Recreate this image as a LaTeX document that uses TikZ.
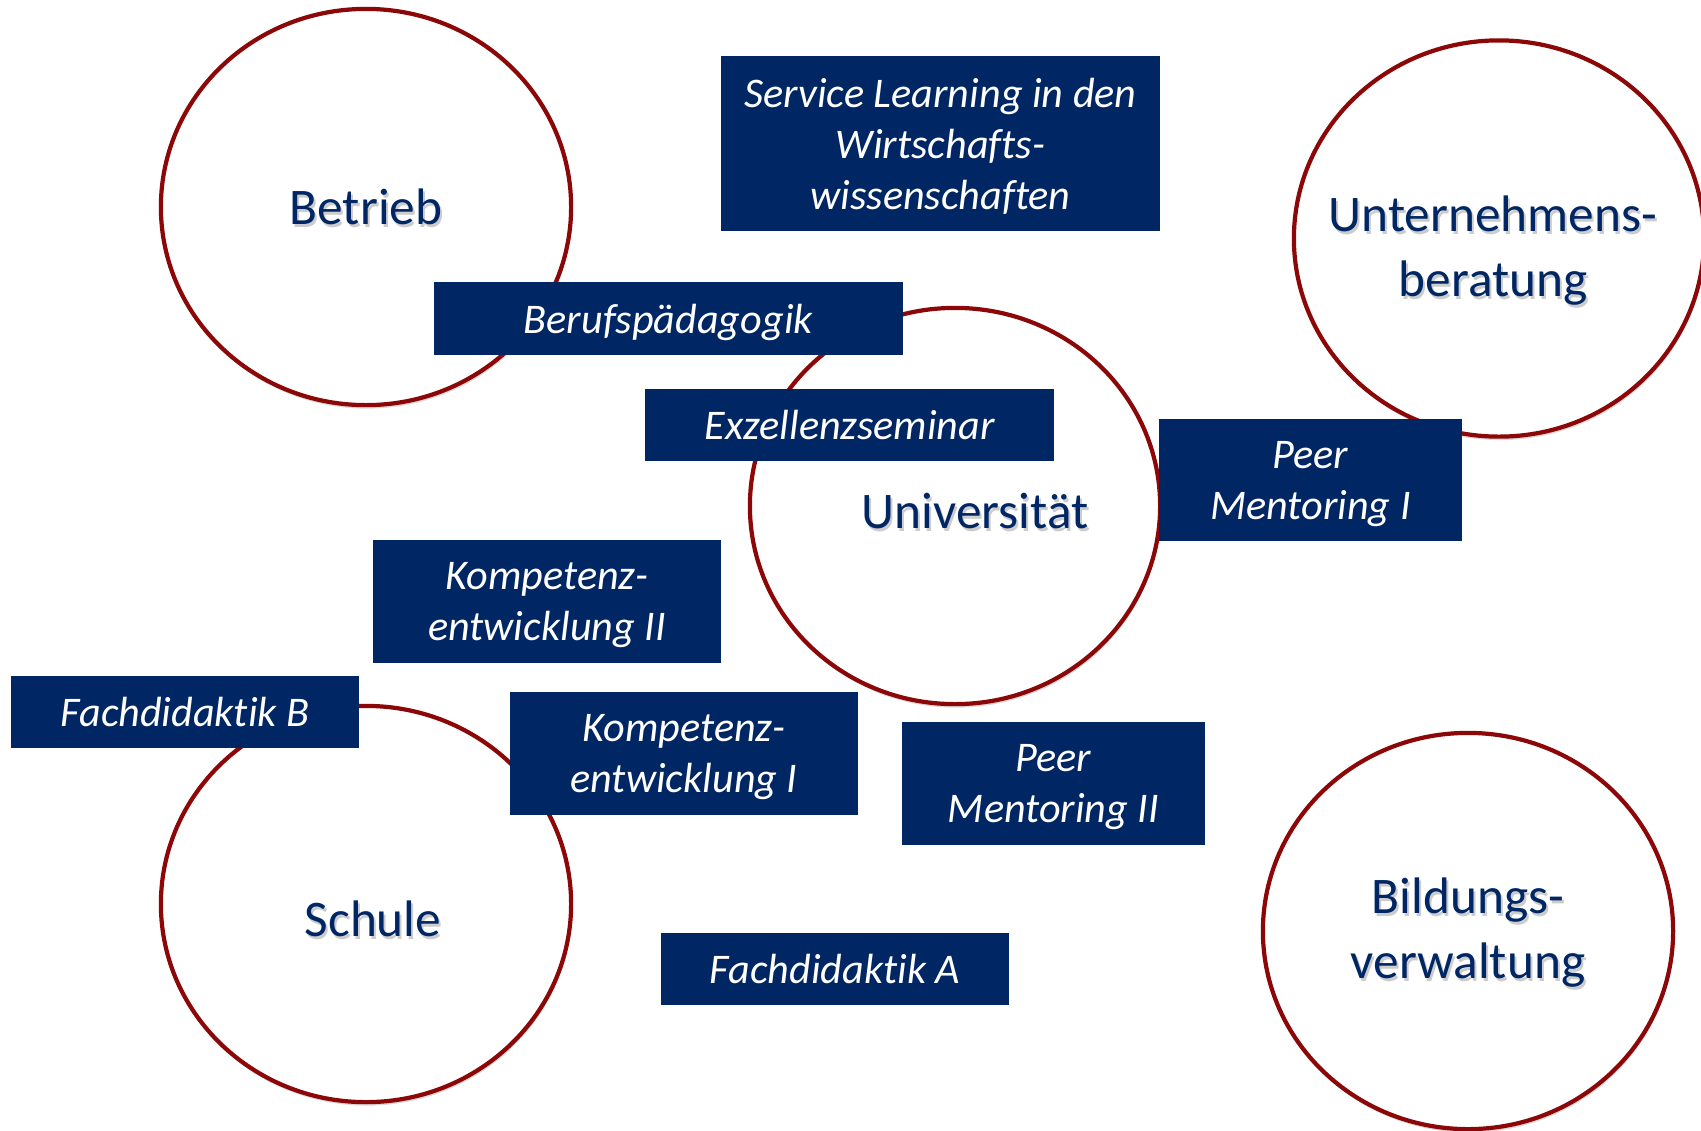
\documentclass[tikz,border=0pt]{standalone}
\usepackage{fontspec}
\setmainfont{Carlito}[RawFeature={-liga;-clig;-calt;-dlig}]
\usetikzlibrary{shapes.geometric,shadows}

\definecolor{uninavy}{RGB}{0,38,99}
\definecolor{ringred}{RGB}{140,8,8}

\tikzset{
  place/.style={ellipse, draw=ringred, line width=1.2pt, fill=white,
    minimum width=4.1cm, minimum height=3.96cm, inner sep=0pt,
    drop shadow={shadow xshift=0.01cm, shadow yshift=-0.035cm,
      opacity=0.25, fill=black!60}},
  placetext/.style={text=uninavy, align=center, text depth=0pt,
    font=\fontsize{14.6}{18.5}\selectfont},
  course/.style={fill=uninavy, text=white, align=center, inner sep=0pt,
    text depth=0pt, minimum width=3.48cm, minimum height=0.72cm,
    font=\fontsize{12}{14.5}\selectfont\itshape},
}

% label of a place, with a soft shadow under the text
\newcommand\placelabel[3][]{%
  \node[placetext, #1, xshift=0.02cm, yshift=-0.03cm, text=black,
    text opacity=0.2] at (#2) {#3};
  \node[placetext, #1] (#2-text) at (#2) {#3};}

\begin{document}
\begin{tikzpicture}[x=0.01cm, y=-0.01cm]
  \useasboundingbox (0,0) rectangle (1701,1130);

  % places of learning
  \node[place] (betrieb) at (366,207) {};
  \node[place] (uni) at (955,506) {};
  \node[place] (beratung) at (1499,238.5) {};
  \node[place] (schule) at (366,904) {};
  \node[place] (verwaltung) at (1468,931) {};

  \placelabel{betrieb}{Betrieb}
  \placelabel[xshift=0.2cm, yshift=-0.05cm]{uni}{Universität}
  \placelabel[xshift=-0.06cm, yshift=-0.077cm]{beratung}{Unternehmens-\\beratung}
  \placelabel[xshift=0.07cm, yshift=-0.15cm]{schule}{Schule}
  \placelabel[yshift=0.03cm]{verwaltung}{Bildungs-\\verwaltung}

  % courses
  \node[course, minimum width=4.39cm, minimum height=1.75cm] (service)
    at (940.5,143.4) {Service Learning in den\\Wirtschafts-\\wissenschaften};
  \node[course, minimum width=4.69cm] (berufs) at (668.3,318.5) {Berufspädagogik};
  \node[course, minimum width=4.08cm] (exzellenz) at (849.6,424.8) {Exzellenzseminar};
  \node[course, minimum width=3.02cm, minimum height=1.22cm] (peerI)
    at (1310.5,480.2) {Peer\\Mentoring I};
  \node[course, minimum height=1.23cm] (kompII) at (547,601.3) {Kompetenz-\\entwicklung II};
  \node[course] (fachB) at (185,711.8) {Fachdidaktik B};
  \node[course, minimum height=1.22cm] (kompI) at (684,753.5) {Kompetenz-\\entwicklung I};
  \node[course, minimum width=3.03cm, minimum height=1.23cm] (peerII)
    at (1053.5,783.3) {Peer\\Mentoring II};
  \node[course] (fachA) at (835,968.8) {Fachdidaktik A};
\end{tikzpicture}
\end{document}
